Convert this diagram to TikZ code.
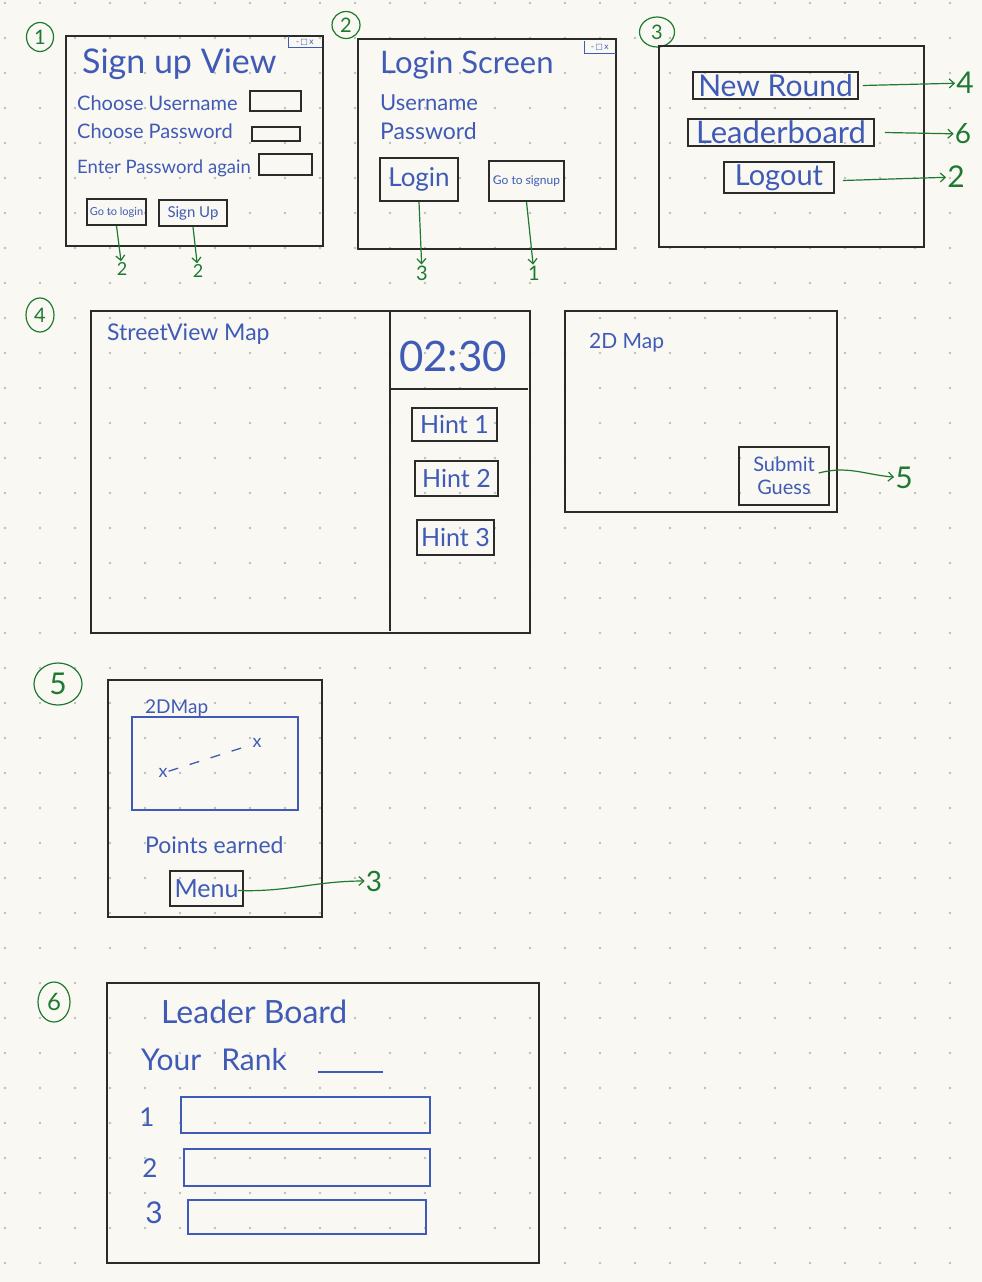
\documentclass[tikz,border=0pt]{standalone}
\usepackage{fontspec}
\setmainfont{Lato}
\newfontfamily\symfont{DejaVu Sans}
\usetikzlibrary{positioning,arrows,arrows.meta,shapes.geometric}
\definecolor{paper}{HTML}{F9F8F3}
\definecolor{ink}{HTML}{3F5BB5}
\definecolor{pen}{HTML}{1E7A30}
\definecolor{frameline}{HTML}{2B2B2B}
\definecolor{dotc}{HTML}{BDBDBD}
\newcommand{\hw}[1]{\fontsize{#1}{#1}\selectfont}

\begin{document}
\begin{tikzpicture}[
x=1pt, y=-1pt,
frame/.style={draw=frameline, line width=1.8pt},
btn/.style={draw=frameline, line width=1.6pt, inner sep=0pt, text=ink, align=center},
field/.style={draw=frameline, line width=1.6pt, inner sep=0pt},
slot/.style={draw=ink, line width=1.3pt, inner sep=0pt},
txt/.style={anchor=base west, inner sep=0pt, text=ink},
num/.style={inner sep=1pt, text=pen},
ring/.style={ellipse, draw=pen, line width=1.2pt, text=pen, inner sep=0pt},
wctl/.style={inner sep=0pt, text=ink, font=\symfont\fontsize{8}{8}\selectfont, minimum width=33pt, minimum height=11pt},
flow/.style={->, >={Straight Barb[length=5pt, width=9pt]}, draw=pen, line width=1.2pt}
]
    %Paper
    \useasboundingbox (0,0) rectangle (982,1282);
    \fill[paper] (0,0) rectangle (982,1282);
    \foreach \i in {0,...,27}
        \foreach \j in {0,...,36}
            \fill[dotc] (5+35*\i, 3+35*\j) circle (1.4pt);

    %Screen numbers
    \node[ring, minimum width=27pt, minimum height=29pt] (c1) at (40,37) {\hw{20}1};
    \node[ring, minimum width=28pt, minimum height=27pt] (c2) at (346,25) {\hw{20}2};
    \node[ring, minimum width=35pt, minimum height=30pt] (c3) at (657,32) {\hw{20}3};
    \node[ring, minimum width=28pt, minimum height=34pt] (c4) at (40,315) {\hw{20}4};
    \node[ring, minimum width=48pt, minimum height=42pt] (c5) at (58,684) {\hw{30}5};
    \node[ring, minimum width=32pt, minimum height=40pt] (c6) at (54,1002) {\hw{24}6};

    %1 Sign up view
    \draw[frame] (66,36) rectangle (323,246);
    \node[wctl] (wc1) at (305,42) {-\,□\,x};
    \draw[ink, line width=1.1pt] (wc1.north west) |- (wc1.south east);
    \node[txt] (t1) at (82,73) {\hw{34}Sign up View};
    \node[txt] (user1) at (77,110) {\hw{20}Choose Username};
    \node[txt] (pass1) at (77,138) {\hw{20}Choose Password};
    \node[txt] (again1) at (77,173) {\hw{18.5}Enter Password again};
    \node[field, minimum width=51pt, minimum height=20pt] (fu1) at (275.5,101) {};
    \node[field, minimum width=48pt, minimum height=14pt] (fp1) at (276,134) {};
    \node[field, minimum width=53pt, minimum height=21pt] (fa1) at (285.5,164.5) {};
    \node[btn, minimum width=59pt, minimum height=26pt] (gologin) at (116.5,212) {\hw{11}Go to login};
    \node[btn, minimum width=68pt, minimum height=26pt] (signup) at (193,213) {\hw{15}Sign Up};
    \node[num] (g1a) at (122,269) {\hw{18}2};
    \node[num] (g1b) at (198,271) {\hw{18}2};
    \draw[flow] (gologin.south) -- (g1a);
    \draw[flow] (signup.south) -- (g1b);

    %2 Login screen
    \draw[frame] (358,39) rectangle (616,249);
    \node[wctl, minimum width=31pt, minimum height=12pt] (wc2) at (600,47) {-\,□\,x};
    \draw[ink, line width=1.1pt] (wc2.north west) |- (wc2.south east);
    \node[txt] (t2) at (380,73) {\hw{31}Login Screen};
    \node[txt] (user2) at (380,110) {\hw{22}Username};
    \node[txt] (pass2) at (380,139) {\hw{23}Password};
    \node[btn, minimum width=78pt, minimum height=43pt] (login) at (419,179.5) {\hw{26}Login};
    \node[btn, minimum width=75pt, minimum height=40pt] (gosignup) at (526.5,181) {\hw{12}Go to signup};
    \node[num] (g2a) at (422,273) {\hw{20}3};
    \node[num] (g2b) at (534,273) {\hw{20}1};
    \draw[flow] (login.south) -- (g2a);
    \draw[flow] (gosignup.south) -- (g2b);

    %3 Menu
    \draw[frame] (659,46) rectangle (924,247);
    \node[btn, minimum width=165pt, minimum height=27pt] (newround) at (775.5,85.5) {\hw{30}New Round};
    \node[btn, minimum width=186pt, minimum height=27pt] (board) at (781,132.5) {\hw{31}Leaderboard};
    \node[btn, minimum width=110pt, minimum height=31pt] (logout) at (779,177.5) {\hw{29}Logout};
    \node[num] (g3a) at (965,83) {\hw{30}4};
    \node[num] (g3b) at (963,134) {\hw{28}6};
    \node[num] (g3c) at (956,177) {\hw{30}2};
    \draw[flow] ([xshift=4pt]newround.east) -- (g3a);
    \draw[flow] ([xshift=10pt]board.east) -- (g3b);
    \draw[flow] ([xshift=8pt,yshift=-3pt]logout.east) -- (g3c);

    %4 Round
    \draw[frame] (91,311) rectangle (530,633);
    \draw[frame] (390,311) -- (390,631);
    \draw[frame] (390,389) -- (528,389);
    \node[txt] (street) at (107,340) {\hw{23}StreetView Map};
    \node[txt] (timer) at (399,371) {\hw{42}02:30};
    \node[btn, minimum width=85pt, minimum height=33pt] (hint1) at (454.5,424.5) {\hw{25}Hint 1};
    \node[btn, minimum width=83pt, minimum height=35pt] (hint2) at (456.5,478.5) {\hw{25}Hint 2};
    \node[btn, minimum width=77pt, minimum height=35pt] (hint3) at (455.5,537.5) {\hw{25}Hint 3};
    \draw[frame] (565,311) rectangle (837,512);
    \node[txt] (map4) at (589,348) {\hw{21}2D Map};
    \node[btn, minimum width=90pt, minimum height=58pt, font=\fontsize{20}{23}\selectfont] (submit) at (784,476) {Submit\\Guess};
    \node[num] (g4) at (904,478) {\hw{30}5};
    \draw[flow] ([xshift=-11pt,yshift=3pt]submit.east) to[out=15, in=175] (g4);

    %5 Result
    \draw[frame] (108,680) rectangle (322,917);
    \node[txt] (map5) at (145,713) {\hw{19}2DMap};
    \draw[slot] (132,717) rectangle (298,810);
    \node[inner sep=1pt, text=ink] (xa) at (163,773) {\hw{18}x};
    \node[inner sep=1pt, text=ink] (xb) at (257,743) {\hw{18}x};
    \draw[ink, line width=1.3pt, dash pattern=on 10pt off 12pt] (xa) -- (xb);
    \node[txt] (points) at (145,853) {\hw{23}Points earned};
    \node[btn, minimum width=73pt, minimum height=35pt] (menu) at (206.5,888.5) {\hw{25}Menu};
    \node[num] (g5) at (374,881) {\hw{28}3};
    \draw[flow] ([xshift=-6pt,yshift=-2pt]menu.east) to[out=-2, in=180] (g5);

    %6 Leader board
    \draw[frame] (107,983) rectangle (539,1263);
    \node[txt] (t6) at (161,1023) {\hw{32}Leader Board};
    \node[txt] (rank) at (141,1070) {\hw{30}Your\hspace{20pt}Rank};
    \draw[ink, line width=1.3pt] (318,1072) -- (383,1072);
    \node[text=ink, inner sep=0pt] (n1) at (147,1117) {\hw{26}1};
    \node[text=ink, inner sep=0pt] (n2) at (150,1168) {\hw{26}2};
    \node[text=ink, inner sep=0pt] (n3) at (154,1213) {\hw{30}3};
    \node[slot, minimum width=249pt, minimum height=36pt] (r1) at (305.5,1115) {};
    \node[slot, minimum width=246pt, minimum height=37pt] (r2) at (307,1167.5) {};
    \node[slot, minimum width=238pt, minimum height=34pt] (r3) at (307,1217) {};
\end{tikzpicture}
\end{document}
